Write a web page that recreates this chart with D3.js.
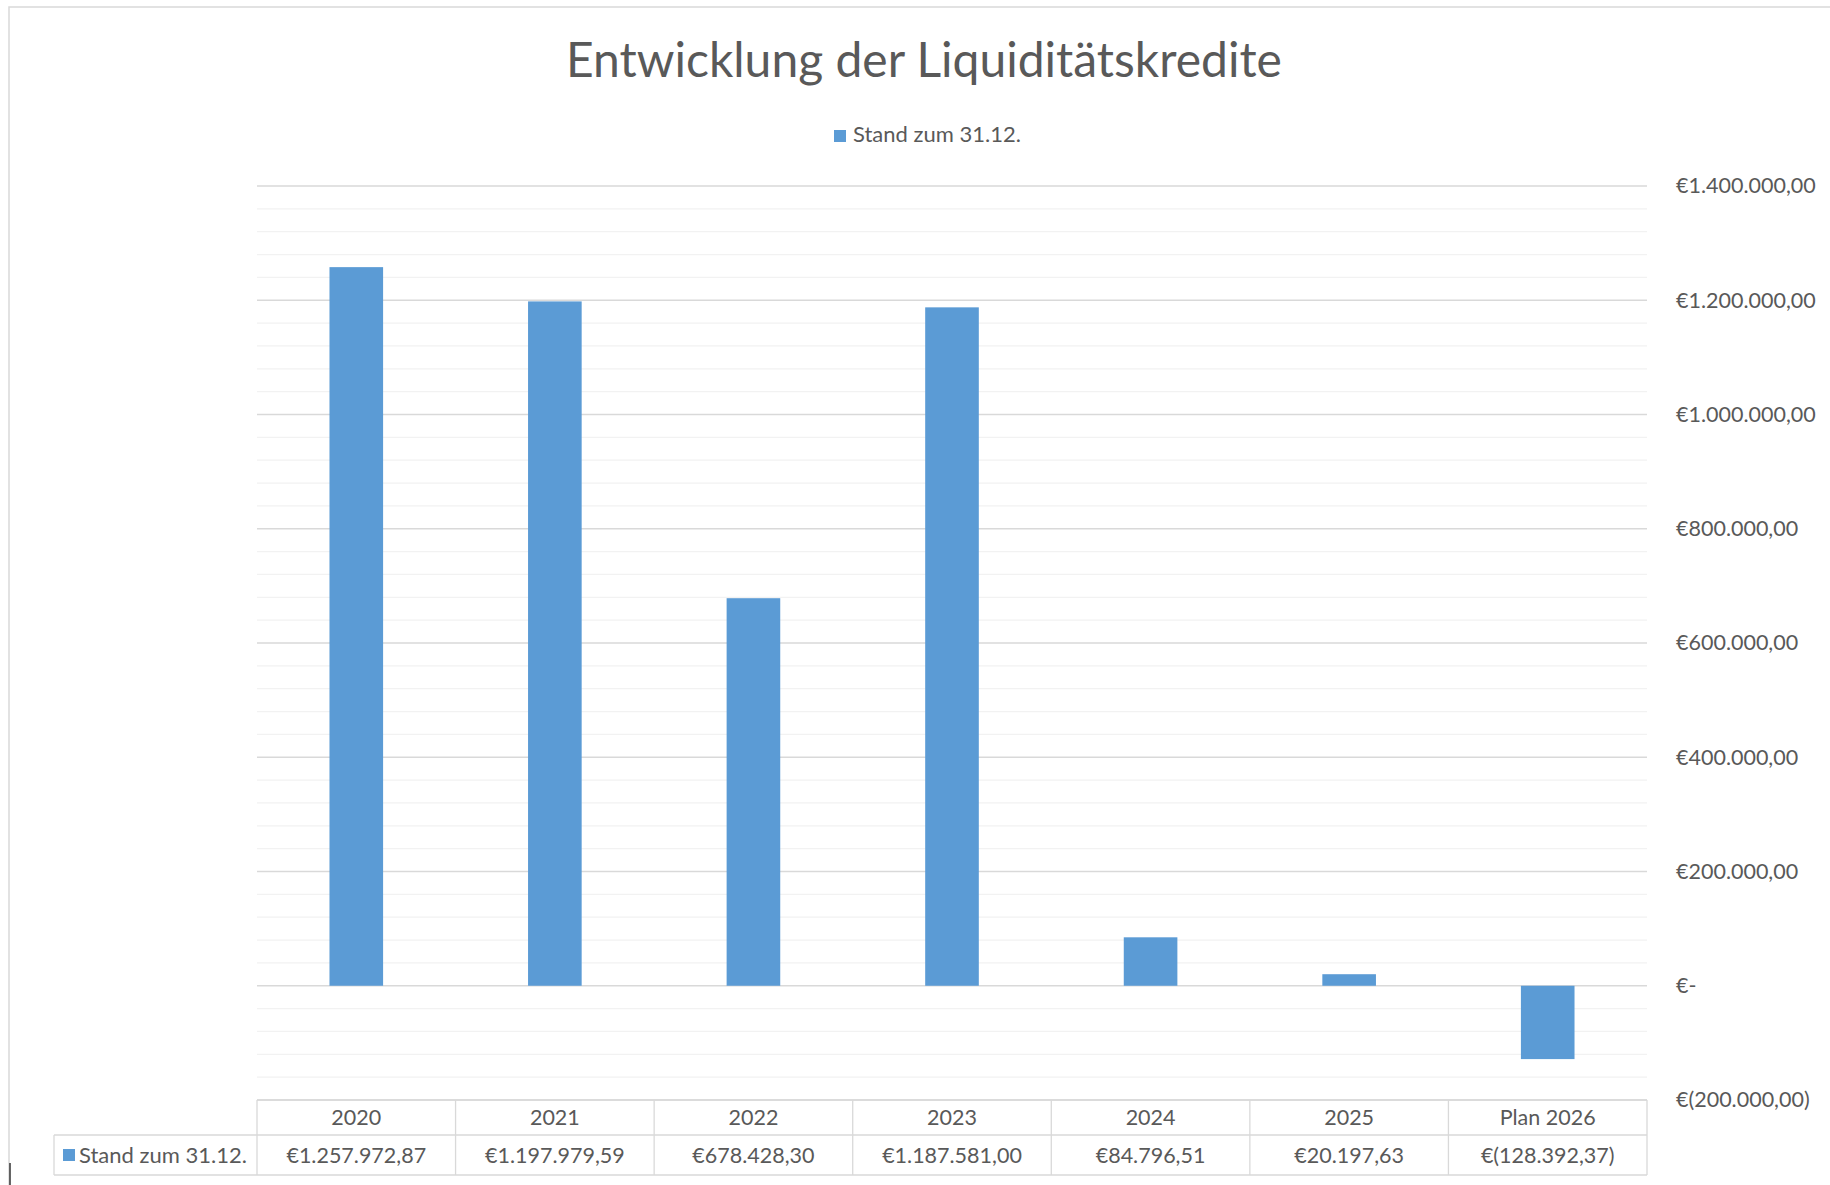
<!DOCTYPE html>
<html>
<head>
<meta charset="utf-8">
<script src="https://cdn.jsdelivr.net/npm/d3@7"></script>
<style>
  html, body { margin: 0; padding: 0; background: #fff; }
  svg { display: block; font-family: Lato, "Open Sans", sans-serif; }
</style>
</head>
<body>
<svg id="chart" width="1830" height="1185"></svg>
<script>
(function () {
  // data
  var categories = ["2020", "2021", "2022", "2023", "2024", "2025", "Plan 2026"];
  var values = [1257972.87, 1197979.59, 678428.30, 1187581.00, 84796.51, 20197.63, -128392.37];
  var seriesName = "Stand zum 31.12.";
  var titleText = "Entwicklung der Liquiditätskredite";
  var majorTicks = [-200000, 0, 200000, 400000, 600000, 800000, 1000000, 1200000, 1400000];
  var minorStep = 40000;

  var textColor = "#595959";
  var barColor = "#5b9bd5";

  var svg = d3.select("#chart");

  var plot = { left: 257, right: 1647, top: 186, bottom: 1100 };

  var x = d3.scaleBand()
    .domain(categories)
    .range([plot.left, plot.right])
    .padding(0);

  var y = d3.scaleLinear()
    .domain([-200000, 1400000])
    .range([plot.bottom, plot.top]);

  var de = d3.formatLocale({ decimal: ",", thousands: ".", grouping: [3], currency: ["€", ""] });
  var num = de.format(",.2f");
  function euro(v) {
    if (v === 0) return "€-";
    if (v < 0) return "€(" + num(-v) + ")";
    return "€" + num(v);
  }

  // chart frame
  svg.append("rect")
    .attr("x", 9).attr("y", 7)
    .attr("width", 1900).attr("height", 1300)
    .attr("fill", "none")
    .attr("stroke", "#d9d9d9")
    .attr("stroke-width", 1.5);

  // title
  svg.append("text")
    .attr("x", 924).attr("y", 77)
    .attr("text-anchor", "middle")
    .attr("fill", textColor)
    .style("font-size", "48px")
    .style("font-weight", 400)
    .text(titleText);

  // legend
  var legend = svg.append("g").attr("transform", "translate(834,130)");
  legend.append("rect").attr("width", 12).attr("height", 12).attr("fill", barColor);
  legend.append("text")
    .attr("x", 19).attr("y", 12)
    .attr("fill", textColor)
    .style("font-size", "22px")
    .text(seriesName);

  // minor gridlines
  var minor = d3.range(-200000 + minorStep, 1400000, minorStep).filter(function (v) {
    return majorTicks.indexOf(v) < 0;
  });
  svg.append("g")
    .selectAll("line")
    .data(minor)
    .enter()
    .append("line")
    .attr("x1", plot.left).attr("x2", plot.right)
    .attr("y1", function (d) { return y(d); })
    .attr("y2", function (d) { return y(d); })
    .attr("stroke", "#f2f2f2")
    .attr("stroke-width", 1.3);

  // major gridlines
  svg.append("g")
    .selectAll("line")
    .data(majorTicks)
    .enter()
    .append("line")
    .attr("x1", plot.left).attr("x2", plot.right)
    .attr("y1", function (d) { return y(d); })
    .attr("y2", function (d) { return y(d); })
    .attr("stroke", "#d9d9d9")
    .attr("stroke-width", 1.3);

  // bars
  var bw = x.bandwidth() * 0.27;
  svg.append("g")
    .selectAll("rect")
    .data(values)
    .enter()
    .append("rect")
    .attr("x", function (d, i) { return x(categories[i]) + (x.bandwidth() - bw) / 2; })
    .attr("width", bw)
    .attr("y", function (d) { return y(Math.max(0, d)); })
    .attr("height", function (d) { return Math.abs(y(d) - y(0)); })
    .attr("fill", barColor);

  // right value axis
  var axis = svg.append("g")
    .attr("transform", "translate(" + (plot.right + 29) + ",0)")
    .call(d3.axisRight(y).tickValues(majorTicks).tickSize(0).tickPadding(0).tickFormat(euro));
  axis.select(".domain").remove();
  axis.selectAll("text")
    .attr("fill", textColor)
    .attr("text-anchor", "start")
    .style("font-size", "21.5px")
    .style("font-family", "Lato, 'Open Sans', sans-serif");

  // data table
  var rowTop = 1100, rowMid = 1135, rowBot = 1175, labelLeft = 54;
  var table = svg.append("g")
    .attr("stroke", "#d9d9d9")
    .attr("stroke-width", 1.3);

  table.append("line").attr("x1", plot.left).attr("x2", plot.right).attr("y1", rowTop).attr("y2", rowTop);
  table.append("line").attr("x1", labelLeft).attr("x2", plot.right).attr("y1", rowMid).attr("y2", rowMid);
  table.append("line").attr("x1", labelLeft).attr("x2", plot.right).attr("y1", rowBot).attr("y2", rowBot);
  table.append("line").attr("x1", labelLeft).attr("x2", labelLeft).attr("y1", rowMid).attr("y2", rowBot);

  table.selectAll("line.col")
    .data(categories.concat(["end"]))
    .enter()
    .append("line")
    .attr("class", "col")
    .attr("x1", function (d) { return d === "end" ? plot.right : x(d); })
    .attr("x2", function (d) { return d === "end" ? plot.right : x(d); })
    .attr("y1", rowTop).attr("y2", rowBot);

  var cells = svg.append("g")
    .attr("fill", textColor)
    .attr("text-anchor", "middle")
    .style("font-size", "21.5px");

  cells.selectAll("text.cat")
    .data(categories)
    .enter()
    .append("text")
    .attr("class", "cat")
    .attr("x", function (d) { return x(d) + x.bandwidth() / 2; })
    .attr("y", (rowTop + rowMid) / 2)
    .attr("dy", "0.35em")
    .text(function (d) { return d; });

  cells.selectAll("text.val")
    .data(values)
    .enter()
    .append("text")
    .attr("class", "val")
    .attr("x", function (d, i) { return x(categories[i]) + x.bandwidth() / 2; })
    .attr("y", (rowMid + rowBot) / 2)
    .attr("dy", "0.35em")
    .text(function (d) { return euro(d); });

  // series key in the table
  svg.append("rect")
    .attr("x", 63).attr("y", 1149)
    .attr("width", 12).attr("height", 12)
    .attr("fill", barColor);
  svg.append("text")
    .attr("x", 79).attr("y", (rowMid + rowBot) / 2)
    .attr("dy", "0.35em")
    .attr("fill", textColor)
    .style("font-size", "22px")
    .text(seriesName);

  // small cursor mark at the lower left of the screenshot
  svg.append("line")
    .attr("x1", 10).attr("x2", 10)
    .attr("y1", 1163).attr("y2", 1185)
    .attr("stroke", "#333")
    .attr("stroke-width", 1.5);
})();
</script>
</body>
</html>
